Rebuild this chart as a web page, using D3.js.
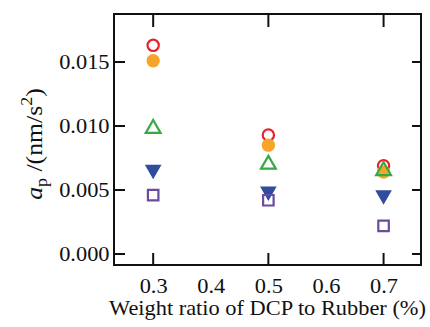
<!DOCTYPE html>
<html>
<head>
<meta charset="utf-8">
<script src="https://cdn.jsdelivr.net/npm/d3@7"></script>
<style>
  body { margin: 0; background: #fff; }
</style>
</head>
<body>
<svg id="chart" width="430" height="327"></svg>
<script>
// data
var ratios = [0.3, 0.5, 0.7];
var redOpen = [0.0163, 0.0093, 0.0069];
var orangeFill = [0.0151, 0.0085, 0.0064];
var greenTri = [0.0098, 0.0070, 0.0065];
var blueDown = [0.0066, 0.0049, 0.0046];
var purpleSq = [0.0046, 0.0042, 0.0022];

var xTickLabels = [0.3, 0.4, 0.5, 0.6, 0.7];
var xTickMarks = [0.3, 0.5, 0.7];
var yTicks = [0.000, 0.005, 0.010, 0.015];

var FONT = "Liberation Serif";
var STRETCH = "scale(1.12,1)"; // the original figure's text is a bit wide

var margin = { left: 114, top: 14, right: 9, bottom: 62 };
var width = 430 - margin.left - margin.right;
var height = 327 - margin.top - margin.bottom;

var svg = d3.select("#chart");
var g = svg.append("g").attr("transform", "translate(" + margin.left + "," + margin.top + ")");

var x = d3.scaleLinear().domain([0.232, 0.765]).range([0, width]);
var y = d3.scaleLinear().domain([-0.00086, 0.01875]).range([height, 0]);

// frame
g.append("rect")
  .attr("width", width).attr("height", height)
  .attr("fill", "none").attr("stroke", "#111").attr("stroke-width", 2);

// x axis: labels at every 0.1, inward ticks only at 0.3/0.5/0.7
var xb = g.append("g").attr("transform", "translate(0," + height + ")")
  .call(d3.axisBottom(x).tickValues(xTickLabels).tickSize(0).tickPadding(14).tickFormat(d3.format(".1f")));
xb.select(".domain").remove();
xb.attr("font-family", FONT);
xb.selectAll("text").attr("font-size", 20).attr("fill", "#111").attr("transform", STRETCH);

g.selectAll(".xt-b").data(xTickMarks).enter().append("line")
  .attr("x1", d => x(d)).attr("x2", d => x(d))
  .attr("y1", height).attr("y2", height - 12)
  .attr("stroke", "#111").attr("stroke-width", 2);
g.selectAll(".xt-t").data(xTickMarks).enter().append("line")
  .attr("x1", d => x(d)).attr("x2", d => x(d))
  .attr("y1", 0).attr("y2", 13)
  .attr("stroke", "#111").attr("stroke-width", 2);

// y axis
var yl = g.append("g")
  .call(d3.axisLeft(y).tickValues(yTicks).tickSize(0).tickPadding(4).tickFormat(d3.format(".3f")));
yl.select(".domain").remove();
yl.attr("font-family", FONT);
yl.selectAll("text").attr("font-size", 20).attr("fill", "#111").attr("transform", STRETCH);

g.selectAll(".yt-l").data(yTicks).enter().append("line")
  .attr("x1", 0).attr("x2", 11)
  .attr("y1", d => y(d)).attr("y2", d => y(d))
  .attr("stroke", "#111").attr("stroke-width", 2);
g.selectAll(".yt-r").data(yTicks).enter().append("line")
  .attr("x1", width).attr("x2", width - 9)
  .attr("y1", d => y(d)).attr("y2", d => y(d))
  .attr("stroke", "#111").attr("stroke-width", 2);

// series, drawn in this order
var series = [
  { vals: redOpen, shape: d3.symbolCircle, size: 100, fill: "none", stroke: "#e52329" },
  { vals: orangeFill, shape: d3.symbolCircle, size: 140, fill: "#f7a42a", stroke: "none" },
  { vals: greenTri, shape: d3.symbolTriangle, size: 95, fill: "none", stroke: "#37a846", rot: 0 },
  { vals: blueDown, shape: d3.symbolTriangle, size: 120, fill: "#2f4c9e", stroke: "none", rot: 180 },
  { vals: purpleSq, shape: d3.symbolSquare, size: 110, fill: "none", stroke: "#6a4ba0" }
];

series.forEach(function (s) {
  g.selectAll(null).data(ratios).enter().append("path")
    .attr("d", d3.symbol().type(s.shape).size(s.size))
    .attr("transform", (d, i) => "translate(" + x(d) + "," + y(s.vals[i]) + ")" + (s.rot ? " rotate(" + s.rot + ")" : ""))
    .attr("fill", s.fill)
    .attr("stroke", s.stroke)
    .attr("stroke-width", 2.2);
});

// axis titles
svg.append("text")
  .attr("transform", "translate(" + (margin.left + width / 2 - 0) + ",315) " + STRETCH)
  .attr("text-anchor", "middle").attr("font-size", 20)
  .attr("font-family", FONT).attr("fill", "#111")
  .text("Weight ratio of DCP to Rubber (%)");

var yt = svg.append("text")
  .attr("transform", "translate(42,144) rotate(-90) scale(1.12,1)")
  .attr("text-anchor", "middle").attr("font-size", 23)
  .attr("font-family", FONT).attr("fill", "#111");
yt.append("tspan").attr("font-style", "italic").text("a");
yt.append("tspan").attr("font-size", 16).attr("dy", 5).text("p");
yt.append("tspan").attr("dy", -5).text(" /(nm/s");
yt.append("tspan").attr("font-size", 16).attr("dy", -10).text("2");
yt.append("tspan").attr("dy", 10).text(")");
</script>
</body>
</html>
